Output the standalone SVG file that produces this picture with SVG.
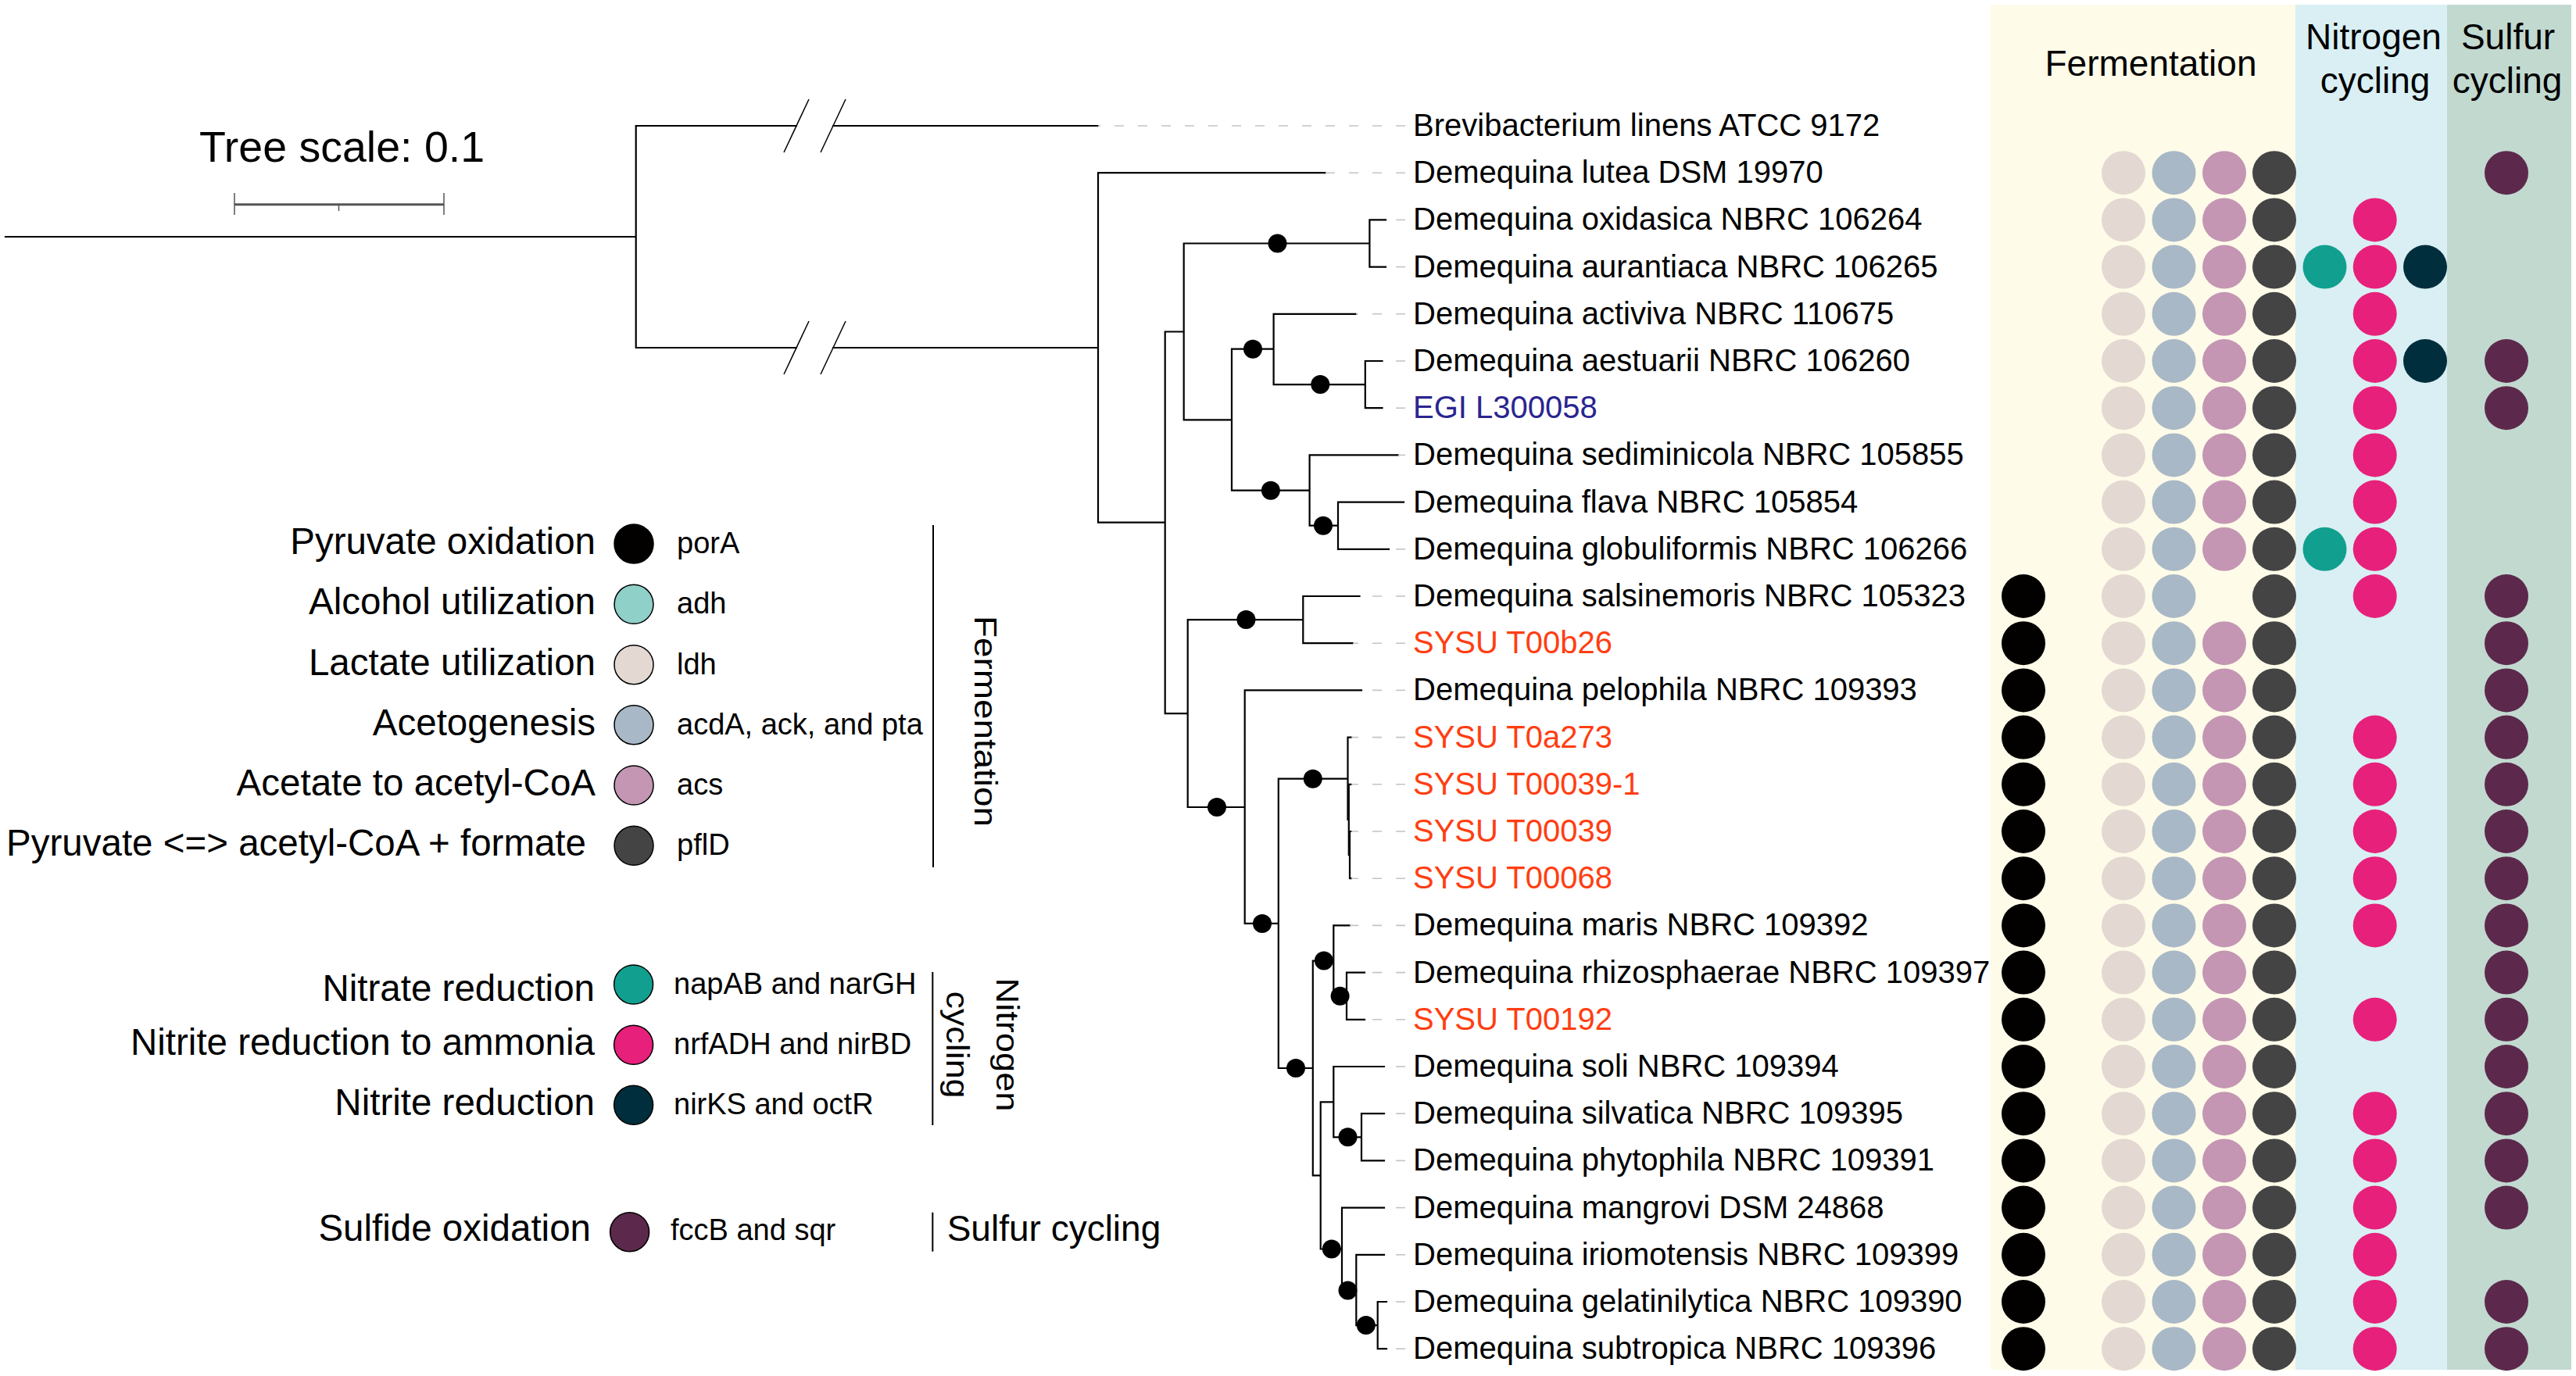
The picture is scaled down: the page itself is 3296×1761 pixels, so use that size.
<svg xmlns="http://www.w3.org/2000/svg" width="3296" height="1761" viewBox="0 0 3296 1761">
<style>
text{font-family:"Liberation Sans",Arial,sans-serif;fill:#000}
.lab{font-size:40px}
.egi{fill:#2a2590}
.sysu{fill:#ff3e12}
.lg{font-size:47.5px}
.gn{font-size:38px}
.hd{font-size:46px}
.br{stroke:#000;stroke-width:2.2;fill:none;stroke-linecap:square}
.ld{stroke:#c4c4c4;stroke-width:1.6;stroke-dasharray:12 18}
.bs{fill:#000}
.ls{stroke:#000;stroke-width:1.5}
.P{fill:#030000}.A{fill:#8fd0c9}.L{fill:#e4d8d2}.Ac{fill:#a8b8c6}.As{fill:#c496b3}.Pf{fill:#444444}
.Na{fill:#11a08f}.Nr{fill:#e7207b}.Ni{fill:#002e3d}.S{fill:#5c294c}
</style>
<rect width="3296" height="1761" fill="#fff"/>
<g id="panels">
<rect x="2547" y="6" width="390" height="1747" fill="#fefbe9"/>
<rect x="2937" y="6" width="194" height="1747" fill="#d9eff3"/>
<rect x="3131" y="6" width="159" height="1747" fill="#c2d9d0"/>
<text class="hd" x="2752" y="97" text-anchor="middle">Fermentation</text>
<text class="hd" x="3037" y="63" text-anchor="middle">Nitrogen</text>
<text class="hd" x="3039" y="119" text-anchor="middle">cycling</text>
<text class="hd" x="3209" y="63" text-anchor="middle">Sulfur</text>
<text class="hd" x="3208" y="119" text-anchor="middle">cycling</text>
</g>
<g id="scale">
<text x="255" y="207" font-size="55.5">Tree scale: 0.1</text>
<line x1="300" y1="261.7" x2="568" y2="261.7" stroke="#555" stroke-width="3"/>
<line x1="300" y1="247" x2="300" y2="275" stroke="#555" stroke-width="1.5"/>
<line x1="568" y1="247" x2="568" y2="275" stroke="#555" stroke-width="1.5"/>
<line x1="433.5" y1="261.7" x2="433.5" y2="270" stroke="#555" stroke-width="1.5"/>
</g>
<g id="connectors">
<path class="br" d="M7 303H813.7M813.7 161V445M813.7 161H1019M1066 161H1405M813.7 445H1019M1066 445H1405
M1405 221.2V668.7M1405 221.2H1695.6M1405 668.7H1490.7
M1490.7 424.5V913.2M1490.7 424.5H1514.7M1490.7 913.2H1519.7
M1514.7 311.5V537.3M1514.7 311.5H1752.4M1514.7 537.3H1576
M1752.4 281.4V341.6M1752.4 281.4H1773M1752.4 341.6H1773
M1576 446.7V627.7M1576 446.7H1629.6M1576 627.7H1675.6
M1629.6 401.8V492.1M1629.6 401.8H1735M1629.6 492.1H1746.8
M1746.8 462V522.2M1746.8 462H1768.5M1746.8 522.2H1768.5
M1675.6 582.4V672.7M1675.6 582.4H1789M1675.6 672.7H1712
M1712 642.6V702.8M1712 642.6H1796M1712 702.8H1777
M1519.7 793.1V1033M1519.7 793.1H1667.3M1519.7 1033H1592.7
M1667.3 763V823.2M1667.3 763H1739.5M1667.3 823.2H1731
M1592.7 883.4V1181.9M1592.7 883.4H1742M1592.7 1181.9H1635.8
M1635.8 996.7V1367M1635.8 996.7H1724.5M1635.8 1367H1679.8
M1724.5 943.6V1049M1724.5 943.6H1729M1724.5 1049H1725.8
M1725.8 1003.8V1094.1M1725.8 1003.8H1729M1725.8 1094.1H1727
M1727 1064V1124.2M1727 1064H1729M1727 1124.2H1729
M1679.8 1229.6V1504.4M1679.8 1229.6H1706.3M1679.8 1504.4H1689.7
M1706.3 1184.4V1274.7M1706.3 1184.4H1727M1706.3 1274.7H1723
M1723 1244.6V1304.8M1723 1244.6H1746M1723 1304.8H1746
M1689.7 1410.3V1598.5M1689.7 1410.3H1706.3M1689.7 1598.5H1717
M1706.3 1365V1455.3M1706.3 1365H1771M1706.3 1455.3H1742
M1742 1425.2V1485.4M1742 1425.2H1771M1742 1485.4H1771
M1717 1545.6V1651.4M1717 1545.6H1771M1717 1651.4H1735.3
M1735.3 1605.8V1696.1M1735.3 1605.8H1771M1735.3 1696.1H1762.7
M1762.7 1666V1726.2M1762.7 1666H1774M1762.7 1726.2H1774"/>
<g stroke="#000" stroke-width="1.5">
<line x1="1003" y1="195" x2="1035" y2="127"/><line x1="1050" y1="195" x2="1082" y2="127"/>
<line x1="1003" y1="479" x2="1035" y2="411"/><line x1="1050" y1="479" x2="1082" y2="411"/>
</g>
<g class="bs">
<circle cx="1634.5" cy="311.5" r="12"/><circle cx="1603" cy="446.7" r="12"/><circle cx="1689.3" cy="492.1" r="12"/>
<circle cx="1625.9" cy="627.7" r="12"/><circle cx="1693" cy="672.7" r="12"/><circle cx="1594.4" cy="793.1" r="12"/>
<circle cx="1557" cy="1033" r="12"/><circle cx="1615" cy="1181.9" r="12"/><circle cx="1679.8" cy="996.7" r="12"/>
<circle cx="1658" cy="1367" r="12"/><circle cx="1693.9" cy="1229.6" r="12"/><circle cx="1714.6" cy="1274.7" r="12"/>
<circle cx="1724.5" cy="1455.3" r="12"/><circle cx="1703.8" cy="1598.5" r="12"/><circle cx="1724.5" cy="1651.4" r="12"/>
<circle cx="1747.8" cy="1696.1" r="12"/>
</g>
</g>
<g id="leaves">
<g id="r0"><line class="ld" x1="1798" y1="161" x2="1405" y2="161"/><text class="lab" x="1808" y="174">Brevibacterium linens ATCC 9172</text></g>
<g id="r1"><line class="ld" x1="1798" y1="221.2" x2="1695.6" y2="221.2"/><text class="lab" x="1808" y="234.2">Demequina lutea DSM 19970</text>
<circle class="L" cx="2717" cy="221.2" r="28"/><circle class="Ac" cx="2781.5" cy="221.2" r="28"/><circle class="As" cx="2846" cy="221.2" r="28"/><circle class="Pf" cx="2910" cy="221.2" r="28"/><circle class="S" cx="3207" cy="221.2" r="28"/></g>
<g id="r2"><line class="ld" x1="1798" y1="281.4" x2="1773" y2="281.4"/><text class="lab" x="1808" y="294.4">Demequina oxidasica NBRC 106264</text>
<circle class="L" cx="2717" cy="281.4" r="28"/><circle class="Ac" cx="2781.5" cy="281.4" r="28"/><circle class="As" cx="2846" cy="281.4" r="28"/><circle class="Pf" cx="2910" cy="281.4" r="28"/><circle class="Nr" cx="3038.7" cy="281.4" r="28"/></g>
<g id="r3"><line class="ld" x1="1798" y1="341.6" x2="1773" y2="341.6"/><text class="lab" x="1808" y="354.6">Demequina aurantiaca NBRC 106265</text>
<circle class="L" cx="2717" cy="341.6" r="28"/><circle class="Ac" cx="2781.5" cy="341.6" r="28"/><circle class="As" cx="2846" cy="341.6" r="28"/><circle class="Pf" cx="2910" cy="341.6" r="28"/><circle class="Na" cx="2974.5" cy="341.6" r="28"/><circle class="Nr" cx="3038.7" cy="341.6" r="28"/><circle class="Ni" cx="3103" cy="341.6" r="28"/></g>
<g id="r4"><line class="ld" x1="1798" y1="401.8" x2="1735" y2="401.8"/><text class="lab" x="1808" y="414.8">Demequina activiva NBRC 110675</text>
<circle class="L" cx="2717" cy="401.8" r="28"/><circle class="Ac" cx="2781.5" cy="401.8" r="28"/><circle class="As" cx="2846" cy="401.8" r="28"/><circle class="Pf" cx="2910" cy="401.8" r="28"/><circle class="Nr" cx="3038.7" cy="401.8" r="28"/></g>
<g id="r5"><line class="ld" x1="1798" y1="462" x2="1768.5" y2="462"/><text class="lab" x="1808" y="475">Demequina aestuarii NBRC 106260</text>
<circle class="L" cx="2717" cy="462" r="28"/><circle class="Ac" cx="2781.5" cy="462" r="28"/><circle class="As" cx="2846" cy="462" r="28"/><circle class="Pf" cx="2910" cy="462" r="28"/><circle class="Nr" cx="3038.7" cy="462" r="28"/><circle class="Ni" cx="3103" cy="462" r="28"/><circle class="S" cx="3207" cy="462" r="28"/></g>
<g id="r6"><line class="ld" x1="1798" y1="522.2" x2="1768.5" y2="522.2"/><text class="lab egi" x="1808" y="535.2">EGI L300058</text>
<circle class="L" cx="2717" cy="522.2" r="28"/><circle class="Ac" cx="2781.5" cy="522.2" r="28"/><circle class="As" cx="2846" cy="522.2" r="28"/><circle class="Pf" cx="2910" cy="522.2" r="28"/><circle class="Nr" cx="3038.7" cy="522.2" r="28"/><circle class="S" cx="3207" cy="522.2" r="28"/></g>
<g id="r7"><line class="ld" x1="1798" y1="582.4" x2="1789" y2="582.4"/><text class="lab" x="1808" y="595.4">Demequina sediminicola NBRC 105855</text>
<circle class="L" cx="2717" cy="582.4" r="28"/><circle class="Ac" cx="2781.5" cy="582.4" r="28"/><circle class="As" cx="2846" cy="582.4" r="28"/><circle class="Pf" cx="2910" cy="582.4" r="28"/><circle class="Nr" cx="3038.7" cy="582.4" r="28"/></g>
<g id="r8"><text class="lab" x="1808" y="655.6">Demequina flava NBRC 105854</text>
<circle class="L" cx="2717" cy="642.6" r="28"/><circle class="Ac" cx="2781.5" cy="642.6" r="28"/><circle class="As" cx="2846" cy="642.6" r="28"/><circle class="Pf" cx="2910" cy="642.6" r="28"/><circle class="Nr" cx="3038.7" cy="642.6" r="28"/></g>
<g id="r9"><line class="ld" x1="1798" y1="702.8" x2="1777" y2="702.8"/><text class="lab" x="1808" y="715.8">Demequina globuliformis NBRC 106266</text>
<circle class="L" cx="2717" cy="702.8" r="28"/><circle class="Ac" cx="2781.5" cy="702.8" r="28"/><circle class="As" cx="2846" cy="702.8" r="28"/><circle class="Pf" cx="2910" cy="702.8" r="28"/><circle class="Na" cx="2974.5" cy="702.8" r="28"/><circle class="Nr" cx="3038.7" cy="702.8" r="28"/></g>
<g id="r10"><line class="ld" x1="1798" y1="763" x2="1739.5" y2="763"/><text class="lab" x="1808" y="776">Demequina salsinemoris NBRC 105323</text>
<circle class="P" cx="2589" cy="763" r="28"/><circle class="L" cx="2717" cy="763" r="28"/><circle class="Ac" cx="2781.5" cy="763" r="28"/><circle class="Pf" cx="2910" cy="763" r="28"/><circle class="Nr" cx="3038.7" cy="763" r="28"/><circle class="S" cx="3207" cy="763" r="28"/></g>
<g id="r11"><line class="ld" x1="1798" y1="823.2" x2="1731" y2="823.2"/><text class="lab sysu" x="1808" y="836.2">SYSU T00b26</text>
<circle class="P" cx="2589" cy="823.2" r="28"/><circle class="L" cx="2717" cy="823.2" r="28"/><circle class="Ac" cx="2781.5" cy="823.2" r="28"/><circle class="As" cx="2846" cy="823.2" r="28"/><circle class="Pf" cx="2910" cy="823.2" r="28"/><circle class="S" cx="3207" cy="823.2" r="28"/></g>
<g id="r12"><line class="ld" x1="1798" y1="883.4" x2="1742" y2="883.4"/><text class="lab" x="1808" y="896.4">Demequina pelophila NBRC 109393</text>
<circle class="P" cx="2589" cy="883.4" r="28"/><circle class="L" cx="2717" cy="883.4" r="28"/><circle class="Ac" cx="2781.5" cy="883.4" r="28"/><circle class="As" cx="2846" cy="883.4" r="28"/><circle class="Pf" cx="2910" cy="883.4" r="28"/><circle class="S" cx="3207" cy="883.4" r="28"/></g>
<g id="r13"><line class="ld" x1="1798" y1="943.6" x2="1729" y2="943.6"/><text class="lab sysu" x="1808" y="956.6">SYSU T0a273</text>
<circle class="P" cx="2589" cy="943.6" r="28"/><circle class="L" cx="2717" cy="943.6" r="28"/><circle class="Ac" cx="2781.5" cy="943.6" r="28"/><circle class="As" cx="2846" cy="943.6" r="28"/><circle class="Pf" cx="2910" cy="943.6" r="28"/><circle class="Nr" cx="3038.7" cy="943.6" r="28"/><circle class="S" cx="3207" cy="943.6" r="28"/></g>
<g id="r14"><line class="ld" x1="1798" y1="1003.8" x2="1729" y2="1003.8"/><text class="lab sysu" x="1808" y="1016.8">SYSU T00039-1</text>
<circle class="P" cx="2589" cy="1003.8" r="28"/><circle class="L" cx="2717" cy="1003.8" r="28"/><circle class="Ac" cx="2781.5" cy="1003.8" r="28"/><circle class="As" cx="2846" cy="1003.8" r="28"/><circle class="Pf" cx="2910" cy="1003.8" r="28"/><circle class="Nr" cx="3038.7" cy="1003.8" r="28"/><circle class="S" cx="3207" cy="1003.8" r="28"/></g>
<g id="r15"><line class="ld" x1="1798" y1="1064" x2="1729" y2="1064"/><text class="lab sysu" x="1808" y="1077">SYSU T00039</text>
<circle class="P" cx="2589" cy="1064" r="28"/><circle class="L" cx="2717" cy="1064" r="28"/><circle class="Ac" cx="2781.5" cy="1064" r="28"/><circle class="As" cx="2846" cy="1064" r="28"/><circle class="Pf" cx="2910" cy="1064" r="28"/><circle class="Nr" cx="3038.7" cy="1064" r="28"/><circle class="S" cx="3207" cy="1064" r="28"/></g>
<g id="r16"><line class="ld" x1="1798" y1="1124.2" x2="1729" y2="1124.2"/><text class="lab sysu" x="1808" y="1137.2">SYSU T00068</text>
<circle class="P" cx="2589" cy="1124.2" r="28"/><circle class="L" cx="2717" cy="1124.2" r="28"/><circle class="Ac" cx="2781.5" cy="1124.2" r="28"/><circle class="As" cx="2846" cy="1124.2" r="28"/><circle class="Pf" cx="2910" cy="1124.2" r="28"/><circle class="Nr" cx="3038.7" cy="1124.2" r="28"/><circle class="S" cx="3207" cy="1124.2" r="28"/></g>
<g id="r17"><line class="ld" x1="1798" y1="1184.4" x2="1727" y2="1184.4"/><text class="lab" x="1808" y="1197.4">Demequina maris NBRC 109392</text>
<circle class="P" cx="2589" cy="1184.4" r="28"/><circle class="L" cx="2717" cy="1184.4" r="28"/><circle class="Ac" cx="2781.5" cy="1184.4" r="28"/><circle class="As" cx="2846" cy="1184.4" r="28"/><circle class="Pf" cx="2910" cy="1184.4" r="28"/><circle class="Nr" cx="3038.7" cy="1184.4" r="28"/><circle class="S" cx="3207" cy="1184.4" r="28"/></g>
<g id="r18"><line class="ld" x1="1798" y1="1244.6" x2="1746" y2="1244.6"/><text class="lab" x="1808" y="1257.6">Demequina rhizosphaerae NBRC 109397</text>
<circle class="P" cx="2589" cy="1244.6" r="28"/><circle class="L" cx="2717" cy="1244.6" r="28"/><circle class="Ac" cx="2781.5" cy="1244.6" r="28"/><circle class="As" cx="2846" cy="1244.6" r="28"/><circle class="Pf" cx="2910" cy="1244.6" r="28"/><circle class="S" cx="3207" cy="1244.6" r="28"/></g>
<g id="r19"><line class="ld" x1="1798" y1="1304.8" x2="1746" y2="1304.8"/><text class="lab sysu" x="1808" y="1317.8">SYSU T00192</text>
<circle class="P" cx="2589" cy="1304.8" r="28"/><circle class="L" cx="2717" cy="1304.8" r="28"/><circle class="Ac" cx="2781.5" cy="1304.8" r="28"/><circle class="As" cx="2846" cy="1304.8" r="28"/><circle class="Pf" cx="2910" cy="1304.8" r="28"/><circle class="Nr" cx="3038.7" cy="1304.8" r="28"/><circle class="S" cx="3207" cy="1304.8" r="28"/></g>
<g id="r20"><line class="ld" x1="1798" y1="1365" x2="1771" y2="1365"/><text class="lab" x="1808" y="1378">Demequina soli NBRC 109394</text>
<circle class="P" cx="2589" cy="1365" r="28"/><circle class="L" cx="2717" cy="1365" r="28"/><circle class="Ac" cx="2781.5" cy="1365" r="28"/><circle class="As" cx="2846" cy="1365" r="28"/><circle class="Pf" cx="2910" cy="1365" r="28"/><circle class="S" cx="3207" cy="1365" r="28"/></g>
<g id="r21"><line class="ld" x1="1798" y1="1425.2" x2="1771" y2="1425.2"/><text class="lab" x="1808" y="1438.2">Demequina silvatica NBRC 109395</text>
<circle class="P" cx="2589" cy="1425.2" r="28"/><circle class="L" cx="2717" cy="1425.2" r="28"/><circle class="Ac" cx="2781.5" cy="1425.2" r="28"/><circle class="As" cx="2846" cy="1425.2" r="28"/><circle class="Pf" cx="2910" cy="1425.2" r="28"/><circle class="Nr" cx="3038.7" cy="1425.2" r="28"/><circle class="S" cx="3207" cy="1425.2" r="28"/></g>
<g id="r22"><line class="ld" x1="1798" y1="1485.4" x2="1771" y2="1485.4"/><text class="lab" x="1808" y="1498.4">Demequina phytophila NBRC 109391</text>
<circle class="P" cx="2589" cy="1485.4" r="28"/><circle class="L" cx="2717" cy="1485.4" r="28"/><circle class="Ac" cx="2781.5" cy="1485.4" r="28"/><circle class="As" cx="2846" cy="1485.4" r="28"/><circle class="Pf" cx="2910" cy="1485.4" r="28"/><circle class="Nr" cx="3038.7" cy="1485.4" r="28"/><circle class="S" cx="3207" cy="1485.4" r="28"/></g>
<g id="r23"><line class="ld" x1="1798" y1="1545.6" x2="1771" y2="1545.6"/><text class="lab" x="1808" y="1558.6">Demequina mangrovi DSM 24868</text>
<circle class="P" cx="2589" cy="1545.6" r="28"/><circle class="L" cx="2717" cy="1545.6" r="28"/><circle class="Ac" cx="2781.5" cy="1545.6" r="28"/><circle class="As" cx="2846" cy="1545.6" r="28"/><circle class="Pf" cx="2910" cy="1545.6" r="28"/><circle class="Nr" cx="3038.7" cy="1545.6" r="28"/><circle class="S" cx="3207" cy="1545.6" r="28"/></g>
<g id="r24"><line class="ld" x1="1798" y1="1605.8" x2="1771" y2="1605.8"/><text class="lab" x="1808" y="1618.8">Demequina iriomotensis NBRC 109399</text>
<circle class="P" cx="2589" cy="1605.8" r="28"/><circle class="L" cx="2717" cy="1605.8" r="28"/><circle class="Ac" cx="2781.5" cy="1605.8" r="28"/><circle class="As" cx="2846" cy="1605.8" r="28"/><circle class="Pf" cx="2910" cy="1605.8" r="28"/><circle class="Nr" cx="3038.7" cy="1605.8" r="28"/></g>
<g id="r25"><line class="ld" x1="1798" y1="1666" x2="1774" y2="1666"/><text class="lab" x="1808" y="1679">Demequina gelatinilytica NBRC 109390</text>
<circle class="P" cx="2589" cy="1666" r="28"/><circle class="L" cx="2717" cy="1666" r="28"/><circle class="Ac" cx="2781.5" cy="1666" r="28"/><circle class="As" cx="2846" cy="1666" r="28"/><circle class="Pf" cx="2910" cy="1666" r="28"/><circle class="Nr" cx="3038.7" cy="1666" r="28"/><circle class="S" cx="3207" cy="1666" r="28"/></g>
<g id="r26"><line class="ld" x1="1798" y1="1726.2" x2="1774" y2="1726.2"/><text class="lab" x="1808" y="1739.2">Demequina subtropica NBRC 109396</text>
<circle class="P" cx="2589" cy="1726.2" r="28"/><circle class="L" cx="2717" cy="1726.2" r="28"/><circle class="Ac" cx="2781.5" cy="1726.2" r="28"/><circle class="As" cx="2846" cy="1726.2" r="28"/><circle class="Pf" cx="2910" cy="1726.2" r="28"/><circle class="Nr" cx="3038.7" cy="1726.2" r="28"/><circle class="S" cx="3207" cy="1726.2" r="28"/></g>
</g>
<g id="legend">
<g id="lg-ferm">
<text class="lg" x="762" y="709" text-anchor="end">Pyruvate oxidation</text>
<circle class="P ls" cx="811" cy="696" r="25"/><text class="gn" x="866" y="708">porA</text>
<text class="lg" x="762" y="786.3" text-anchor="end">Alcohol utilization</text>
<circle class="A ls" cx="811" cy="773.3" r="25"/><text class="gn" x="866" y="785.3">adh</text>
<text class="lg" x="762" y="863.7" text-anchor="end">Lactate utilization</text>
<circle class="L ls" cx="811" cy="850.7" r="25"/><text class="gn" x="866" y="862.7">ldh</text>
<text class="lg" x="762" y="940.7" text-anchor="end">Acetogenesis</text>
<circle class="Ac ls" cx="811" cy="927.7" r="25"/><text class="gn" x="866" y="939.7">acdA, ack, and pta</text>
<text class="lg" x="762" y="1018" text-anchor="end">Acetate to acetyl-CoA</text>
<circle class="As ls" cx="811" cy="1005" r="25"/><text class="gn" x="866" y="1017">acs</text>
<text class="lg" x="750" y="1095.3" text-anchor="end">Pyruvate &lt;=&gt; acetyl-CoA + formate</text>
<circle class="Pf ls" cx="811" cy="1082.3" r="25"/><text class="gn" x="866" y="1094.3">pflD</text>
<line x1="1194" y1="672" x2="1194" y2="1110" stroke="#000" stroke-width="2"/>
<text x="0" y="0" font-size="40" text-anchor="middle" textLength="270" lengthAdjust="spacingAndGlyphs" transform="translate(1247 923) rotate(90)">Fermentation</text>
</g>
<g id="lg-nitro">
<text class="lg" x="761" y="1281" text-anchor="end">Nitrate reduction</text>
<circle class="Na ls" cx="810.6" cy="1260" r="25"/><text class="gn" x="862" y="1272">napAB and narGH</text>
<text class="lg" x="761" y="1350.3" text-anchor="end">Nitrite reduction to ammonia</text>
<circle class="Nr ls" cx="810.6" cy="1337.3" r="25"/><text class="gn" x="862" y="1349">nrfADH and nirBD</text>
<text class="lg" x="761" y="1427.3" text-anchor="end">Nitrite reduction</text>
<circle class="Ni ls" cx="810.6" cy="1414.3" r="25"/><text class="gn" x="862" y="1426">nirKS and octR</text>
<line x1="1193.3" y1="1244" x2="1193.3" y2="1440" stroke="#000" stroke-width="2"/>
<text x="0" y="0" font-size="40" text-anchor="middle" textLength="171" lengthAdjust="spacingAndGlyphs" transform="translate(1275 1337) rotate(90)">Nitrogen</text>
<text x="0" y="0" font-size="40" text-anchor="middle" textLength="137" lengthAdjust="spacingAndGlyphs" transform="translate(1211 1337) rotate(90)">cycling</text>
</g>
<g id="lg-sulf">
<text class="lg" x="756" y="1587.5" text-anchor="end">Sulfide oxidation</text>
<circle class="S ls" cx="805.6" cy="1576.7" r="25"/><text class="gn" x="858" y="1587">fccB and sqr</text>
<line x1="1193.3" y1="1551.7" x2="1193.3" y2="1601.7" stroke="#000" stroke-width="2"/>
<text class="hd" x="1211.7" y="1588">Sulfur cycling</text>
</g>
</g>
</svg>
